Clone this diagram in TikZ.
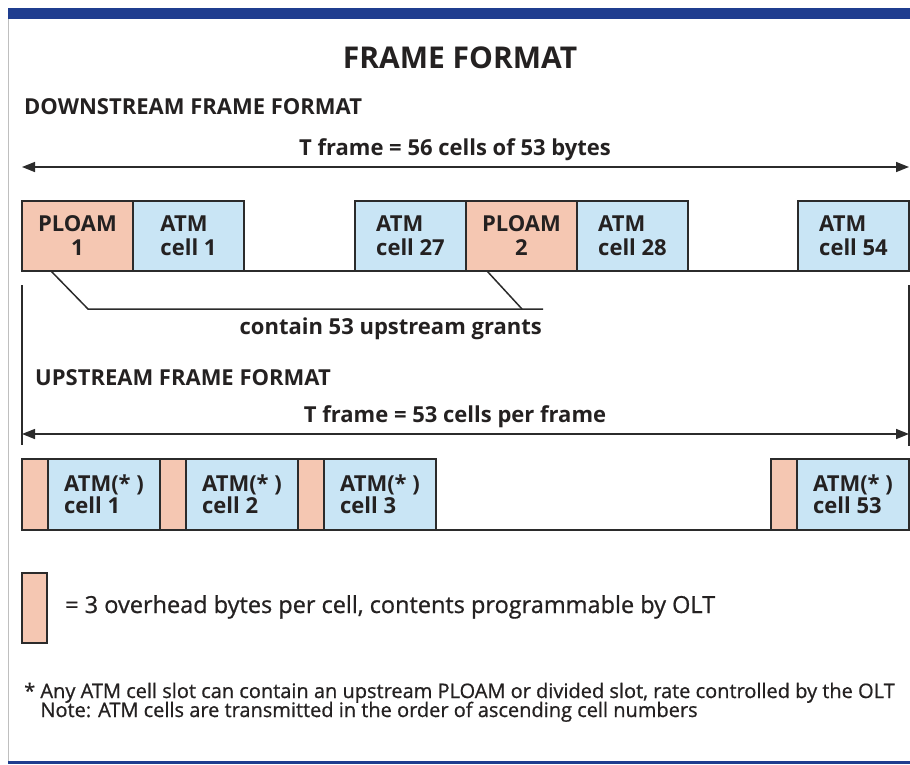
\documentclass[tikz,border=0pt]{standalone}
\usepackage{fontspec}
\setmainfont{Open Sans}
\newfontfamily\notefont[FakeBold=0.8]{Open Sans}
\usepackage{tikz}
\usetikzlibrary{arrows.meta}
\usetikzlibrary{positioning, calc}
\definecolor{barblue}{rgb}{0.12, 0.24, 0.56}
\definecolor{ploampink}{rgb}{0.96, 0.78, 0.70}
\definecolor{atmblue}{rgb}{0.79, 0.90, 0.96}
\definecolor{boxline}{rgb}{0.17, 0.17, 0.17}
\definecolor{inktext}{rgb}{0.14, 0.13, 0.13}

\tikzset{
  textlabel/.style={inner sep=0pt, text=inktext},
  headlabel/.style={textlabel, font=\bfseries\fontsize{22}{24}\selectfont},
  notelabel/.style={textlabel, anchor=base west, font=\notefont\fontsize{20}{22}\selectfont},
  cellbox/.style={draw=boxline, line width=2pt, outer sep=0pt, inner sep=0pt,
    minimum width=111pt, minimum height=70pt, text=inktext,
    font=\bfseries\fontsize{22}{24}\selectfont},
  ploambox/.style={cellbox, fill=ploampink, align=center},
  atmbox/.style={cellbox, fill=atmblue, align=left},
  ohbox/.style={cellbox, fill=ploampink, minimum width=26pt, minimum height=71pt},
  upbox/.style={cellbox, fill=atmblue, align=left, minimum width=112pt,
    minimum height=71pt, font=\bfseries\fontsize{22}{22}\selectfont},
  framearrow/.style={draw=boxline, line width=1.5pt,
    {Triangle[length=13pt,width=10pt]}-{Triangle[length=13pt,width=10pt]}},
  thinline/.style={draw=boxline, line width=1.5pt},
  baseline/.style={draw=boxline, line width=2pt},
}

\begin{document}
\begin{tikzpicture}[x=1pt, y=-1pt]
            \useasboundingbox (0,0) rectangle (910,764);

            % Page frame
            \fill[barblue] (8,8) rectangle (910,19);
            \fill[barblue] (8,761) rectangle (910,764);
            \draw[black!25, line width=1pt] (8,19) -- (8,761);

            % Titles
            \node (title) [textlabel, anchor=base, font=\bfseries\fontsize{30}{32}\selectfont] at (460,68) {FRAME FORMAT};
            \node (downhead) [headlabel, anchor=base west] at (24,114) {DOWNSTREAM FRAME FORMAT};

            % Downstream frame length
            \coordinate (dsleft) at (22,167);
            \coordinate (dsright) at (909,167);
            \draw[framearrow] (dsleft) -- (dsright);
            \node (dslength) [headlabel, anchor=base] at (455,155) {T frame = 56 cells of 53 bytes};

            % Downstream cells
            \node (ploam1) [ploambox, anchor=north west] at (22,201) {PLOAM\\1};
            \node (cell1) [atmbox, right=0pt of ploam1] {ATM\\cell 1};
            \node (cell27) [atmbox, anchor=north west] at (355,201) {ATM\\cell 27};
            \node (ploam2) [ploambox, right=0pt of cell27] {PLOAM\\2};
            \node (cell28) [atmbox, right=0pt of ploam2] {ATM\\cell 28};
            \node (cell54) [atmbox, anchor=north east] at (909,201) {ATM\\cell 54};
            \draw[baseline] (cell1.south east) -- (cell27.south west);
            \draw[baseline] (cell28.south east) -- (cell54.south west);

            % Upstream grants carried by the PLOAM cells
            \coordinate (grantleft) at (88,309);
            \coordinate (grantright) at (543,309);
            \draw[thinline] ($(ploam1.south west)+(29,0)$) -- (grantleft) -- (grantright);
            \draw[thinline] ($(ploam2.south west)+(21,0)$) -- ($(grantright)+(-21,0)$);
            \node (grants) [headlabel, anchor=base east] at (542,334) {contain 53 upstream grants};

            % Upstream frame limits
            \coordinate (uptopleft) at (22,285);
            \coordinate (upbotleft) at (22,445);
            \coordinate (uptopright) at (909,285);
            \coordinate (upbotright) at (909,446);
            \draw[thinline] (uptopleft) -- (upbotleft);
            \draw[thinline] (uptopright) -- (upbotright);

            \node (uphead) [headlabel, anchor=base west] at (35,385) {UPSTREAM FRAME FORMAT};
            \coordinate (usleft) at (22,434);
            \coordinate (usright) at (909,434);
            \draw[framearrow] (usleft) -- (usright);
            \node (uslength) [headlabel, anchor=base] at (455,422) {T frame = 53 cells per frame};

            % Upstream cells with overhead bytes
            \node (oh1) [ohbox, anchor=north west] at (22,459) {};
            \node (up1) [upbox, right=0pt of oh1] {ATM(* )\\cell 1};
            \node (oh2) [ohbox, right=0pt of up1] {};
            \node (up2) [upbox, right=0pt of oh2] {ATM(* )\\cell 2};
            \node (oh3) [ohbox, right=0pt of up2] {};
            \node (up3) [upbox, right=0pt of oh3] {ATM(* )\\cell 3};
            \node (up53) [upbox, anchor=north east] at (909,459) {ATM(* )\\cell 53};
            \node (oh53) [ohbox, left=0pt of up53] {};
            \draw[baseline] (up3.south east) -- (oh53.south west);

            % Legend
            \node (legendbox) [ohbox, minimum width=25pt, minimum height=70pt, anchor=north west] at (22,573) {};
            \node (legendtext) [notelabel, font=\notefont\fontsize{23.5}{25}\selectfont] at (65,613) {= 3 overhead bytes per cell, contents programmable by OLT};

            % Footnotes
            \node (note1) [notelabel] at (24,698) {* Any ATM cell slot can contain an upstream PLOAM or divided slot, rate controlled by the OLT};
            \node (note2) [notelabel] at (24,717) {\phantom{* }Note: ATM cells are transmitted in the order of ascending cell numbers};
        \end{tikzpicture}
\end{document}
